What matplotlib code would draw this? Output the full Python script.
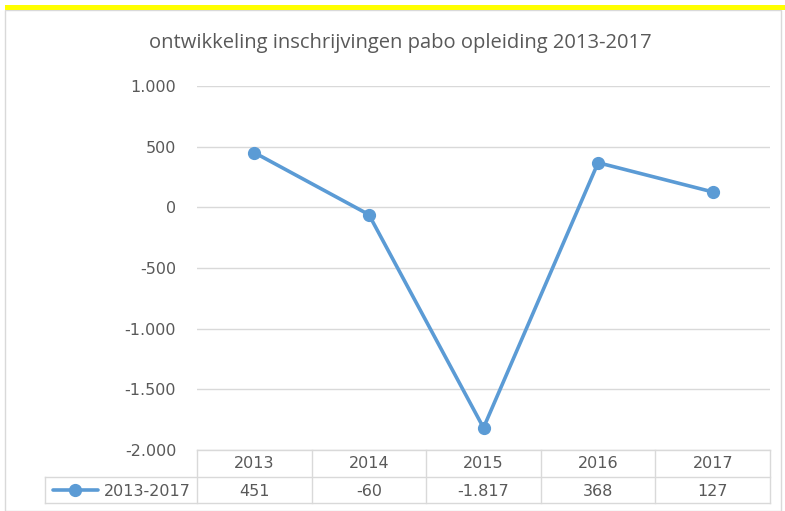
import matplotlib.pyplot as plt
from matplotlib.lines import Line2D
from matplotlib.patches import Rectangle
import matplotlib.transforms as mtransforms

# data
years = ['2013', '2014', '2015', '2016', '2017']
values = [451, -60, -1817, 368, 127]
series_name = '2013-2017'
title = 'ontwikkeling inschrijvingen pabo opleiding 2013-2017'
yticks = [-2000, -1500, -1000, -500, 0, 500, 1000]

W, H = 785, 511
blue = '#5B9BD5'
grey_txt = '#595959'
grid_c = '#D9D9D9'
plt.rcParams['font.family'] = ['DejaVu Sans']


def fmt(v):
    # dutch thousands separator
    s = '{:,}'.format(v).replace(',', '.')
    return s


def fx(px):
    return px / W


def fy(py):
    return 1 - py / H


fig = plt.figure(figsize=(W / 100, H / 100), dpi=100)

# outer frame and yellow band
fig.patches.append(Rectangle((fx(5), 0), fx(776), fy(10), transform=fig.transFigure,
                             facecolor='white', edgecolor='#D9D9D9', lw=1, zorder=-10))
fig.patches.append(Rectangle((fx(5), fy(10)), fx(780), 5 / H, transform=fig.transFigure,
                             facecolor='#FFFF00', edgecolor='none', zorder=-10))

left, right, top, bottom = 197, 770, 86, 450
ax = fig.add_axes([fx(left), fy(bottom), fx(right - left), (bottom - top) / H])
ax.set_facecolor('none')
x = list(range(len(years)))
ax.plot(x, values, color=blue, lw=2.6, marker='o', markersize=8.5, solid_capstyle='round', zorder=3)
ax.set_xlim(-0.5, len(years) - 0.5)
ax.set_ylim(yticks[0], yticks[-1])
ax.set_yticks(yticks)
ax.set_yticklabels([fmt(t) for t in yticks], fontsize=11.5, color=grey_txt)
ax.set_xticks([])
ax.tick_params(axis='y', length=0, pad=15)
ax.grid(axis='y', color=grid_c, lw=1)
for s in ax.spines.values():
    s.set_visible(False)

fig.text(0.51, fy(43), title, ha='center', va='center', fontsize=14.5, color=grey_txt,
         family=['Liberation Sans Narrow', 'Open Sans', 'DejaVu Sans'])

# data table
row1, row2, row3 = 450, 477, 503
tr = mtransforms.blended_transform_factory(ax.transData, fig.transFigure)
edges = [i - 0.5 for i in range(len(years) + 1)]
for e in edges:
    ax.add_line(Line2D([e, e], [fy(row1), fy(row3)], transform=tr, color=grid_c, lw=1, clip_on=False))
fig.add_artist(Line2D([fx(left), fx(right)], [fy(row1), fy(row1)], color=grid_c, lw=1))
for yy in (row2, row3):
    fig.add_artist(Line2D([fx(45), fx(right)], [fy(yy), fy(yy)], color=grid_c, lw=1))
fig.add_artist(Line2D([fx(45), fx(45)], [fy(row2), fy(row3)], color=grid_c, lw=1))

for i, (yr, v) in enumerate(zip(years, values)):
    ax.text(i, fy(464), yr, transform=tr, ha='center', va='center', fontsize=11.5, color=grey_txt)
    ax.text(i, fy(491), fmt(v), transform=tr, ha='center', va='center', fontsize=11.5, color=grey_txt)

# legend key in table
fig.add_artist(Line2D([fx(53), fx(98)], [fy(490), fy(490)], color=blue, lw=2.6, solid_capstyle='round'))
fig.add_artist(Line2D([fx(75)], [fy(490)], color=blue, marker='o', markersize=8.5, lw=0))
fig.text(fx(191), fy(491), series_name, ha='right', va='center', fontsize=11.5, color=grey_txt)

fig.savefig('out.png', dpi=100)
